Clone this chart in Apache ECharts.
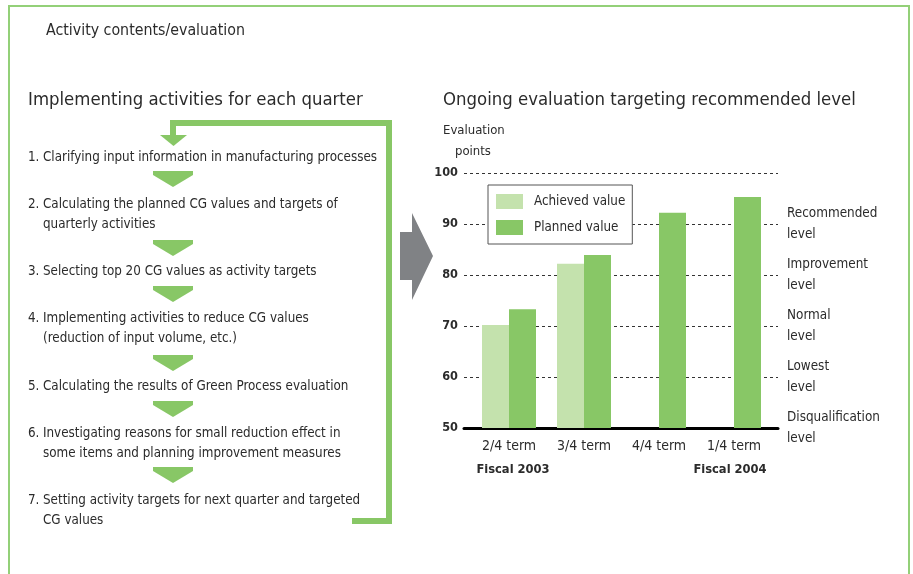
<!DOCTYPE html>
<html>
<head>
<meta charset="utf-8">
<script src="https://cdn.jsdelivr.net/npm/echarts@6/dist/echarts.min.js"></script>
<style>
  html, body { margin: 0; padding: 0; background: #fff; }
  #main { width: 913px; height: 574px; }
</style>
</head>
<body>
<div id="main"></div>
<script>
// chart data
var categories = ["2/4 term", "3/4 term", "4/4 term", "1/4 term"];
var fiscalLabels = ["Fiscal 2003", "", "", "Fiscal 2004"];
var achieved = [70.2, 82.2, null, null];
var planned = [73.3, 83.9, 92.2, 95.3];
var levelNames = {
  50: "Disqualification\nlevel",
  60: "Lowest\nlevel",
  70: "Normal\nlevel",
  80: "Improvement\nlevel",
  90: "Recommended\nlevel"
};
var steps = [
  "Clarifying input information in manufacturing processes",
  "Calculating the planned CG values and targets of\nquarterly activities",
  "Selecting top 20 CG values as activity targets",
  "Implementing activities to reduce CG values\n(reduction of input volume, etc.)",
  "Calculating the results of Green Process evaluation",
  "Investigating reasons for small reduction effect in\nsome items and planning improvement measures",
  "Setting activity targets for next quarter and targeted\nCG values"
];

var FONT = '"DejaVu Sans Condensed", "Liberation Sans Narrow", sans-serif';
var GREEN = "#88c766";
var LIGHT = "#c4e2ad";
var TXT = "#2b2b2b";
var SMALL = "13.3px ";

var chart = echarts.init(document.getElementById("main"));

// left flow: text positions (first line center) and small arrows
var stepY = [158, 205, 272, 319, 387, 434, 501];
var arrowY = [171, 240, 286, 355, 401, 467];
var graphics = [];

// frame
graphics.push({
  type: "polyline",
  shape: { points: [[9, 580], [9, 6], [909, 6], [909, 580]] },
  style: { stroke: "#93d078", lineWidth: 2, fill: null }
});
graphics.push({
  type: "text", left: 46, top: 23,
  style: { text: "Activity contents/evaluation", font: "15.8px " + FONT, fill: TXT }
});
graphics.push({
  type: "text", left: 28, top: 91,
  style: { text: "Implementing activities for each quarter", font: "18.4px " + FONT, fill: TXT }
});
graphics.push({
  type: "text", left: 443, top: 91,
  style: { text: "Ongoing evaluation targeting recommended level", font: "18.4px " + FONT, fill: TXT }
});
graphics.push({
  type: "text", left: 443, top: 124,
  style: { text: "Evaluation", font: "13px " + FONT, fill: TXT }
});
graphics.push({
  type: "text", left: 455, top: 145,
  style: { text: "points", font: "13px " + FONT, fill: TXT }
});

steps.forEach(function (s, i) {
  graphics.push({
    type: "text", x: 28, y: stepY[i] - 10,
    style: { text: (i + 1) + ".", font: SMALL + FONT, fill: TXT, lineHeight: 20 }
  });
  graphics.push({
    type: "text", x: 43, y: stepY[i] - 10,
    style: { text: s, font: SMALL + FONT, fill: TXT, lineHeight: 20 }
  });
});

arrowY.forEach(function (y) {
  graphics.push({
    type: "polygon",
    shape: { points: [[153, y], [193, y], [193, y + 4], [173, y + 16], [153, y + 4]] },
    style: { fill: GREEN }
  });
});

// feedback loop
graphics.push({
  type: "polyline",
  shape: { points: [[352, 521], [389, 521], [389, 123], [173, 123], [173, 137]] },
  style: { stroke: GREEN, lineWidth: 6, fill: null }
});
graphics.push({
  type: "polygon",
  shape: { points: [[160, 135], [187, 135], [173.5, 146]] },
  style: { fill: GREEN }
});

// gray arrow
graphics.push({
  type: "polygon",
  shape: { points: [[400, 232], [412, 232], [412, 213], [433, 256], [412, 300], [412, 280], [400, 280]] },
  style: { fill: "#808285" }
});

var option = {
  animation: false,
  textStyle: { fontFamily: FONT },
  legend: {
    orient: "vertical",
    left: 488,
    top: 185,
    icon: "rect",
    itemWidth: 27,
    itemHeight: 15,
    itemGap: 11,
    padding: [9, 7, 9, 8],
    borderColor: "#555",
    borderWidth: 1,
    backgroundColor: "#fff",
    textStyle: { fontSize: 13.3, color: TXT, fontFamily: FONT, padding: [0, 0, 0, 6] },
    data: ["Achieved value", "Planned value"]
  },
  grid: [
    { left: 464, width: 314, top: 173, height: 255 },
    { left: 471.5, width: 300, top: 173, height: 255 }
  ],
  xAxis: [
    {
      gridIndex: 0, type: "value", min: 0, max: 1,
      axisLine: { show: true, lineStyle: { color: "#000", width: 3 } },
      axisTick: { show: false }, axisLabel: { show: false }, splitLine: { show: false }
    },
    {
      gridIndex: 1, type: "category", data: categories,
      axisLine: { show: false }, axisTick: { show: false },
      axisLabel: {
        margin: 6,
        interval: 0,
        formatter: function (v, i) {
          var f = fiscalLabels[i];
          var st = i === 0 ? "fl" : "fr";
          return "{t|" + v + "}\n{" + st + "|" + (f || " ") + "}";
        },
        rich: {
          t: { fontSize: 14, color: TXT, lineHeight: 24, fontFamily: FONT },
          fl: { fontSize: 12.8, color: TXT, lineHeight: 24, fontWeight: "bold", fontFamily: FONT, padding: [0, 0, 0, 8] },
          fr: { fontSize: 12.8, color: TXT, lineHeight: 24, fontWeight: "bold", fontFamily: FONT, padding: [0, 8, 0, 0] }
        }
      }
    }
  ],
  yAxis: [
    {
      gridIndex: 0, type: "value", min: 50, max: 100, interval: 10,
      axisLine: { show: false }, axisTick: { show: false },
      axisLabel: { margin: 6, fontSize: 12.6, color: TXT, fontWeight: "bold", fontFamily: FONT },
      splitLine: { show: true, lineStyle: { color: "#333", type: [3, 3], width: 1 } }
    },
    {
      gridIndex: 0, type: "value", position: "right", min: 50, max: 100, interval: 10,
      axisLine: { show: false }, axisTick: { show: false }, splitLine: { show: false },
      axisLabel: {
        margin: 9, fontSize: 13.4, color: TXT, lineHeight: 21, fontFamily: FONT,
        formatter: function (v) { return levelNames[v] || ""; }
      }
    },
    {
      gridIndex: 1, type: "value", min: 50, max: 100, interval: 10, show: false
    }
  ],
  series: [
    {
      name: "Achieved value", type: "bar", xAxisIndex: 1, yAxisIndex: 2,
      barWidth: 27, barGap: 0, itemStyle: { color: LIGHT }, data: achieved
    },
    {
      name: "Planned value", type: "bar", xAxisIndex: 1, yAxisIndex: 2,
      barWidth: 27, barGap: 0, itemStyle: { color: GREEN }, data: planned
    }
  ],
  graphic: graphics
};
chart.setOption(option);
</script>
</body>
</html>
